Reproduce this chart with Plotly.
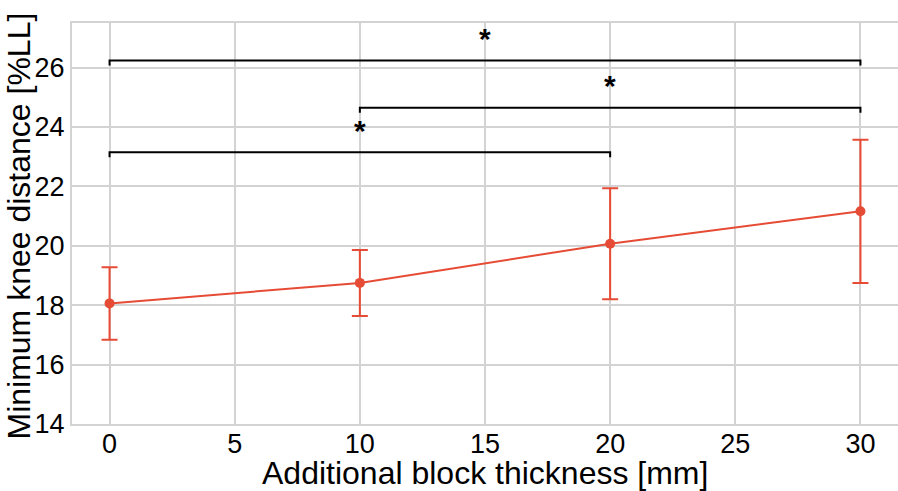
import plotly.graph_objects as go

thickness = [0, 10, 20, 30]
knee_mean = [18.06, 18.75, 20.07, 21.16]
knee_err = [1.22, 1.11, 1.87, 2.41]

# significance brackets: (x_start, x_end, y_level, label)
bracket_x0 = [0, 10, 0]
bracket_x1 = [30, 30, 20]
bracket_y = [26.24, 24.65, 23.15]
bracket_label = ["*", "*", "*"]
tick_drop = 0.17

x_title = "Additional block thickness [mm]"
y_title = "Minimum knee distance [%LL]"

red = "#E64B35"
font = "Liberation Sans, Arial, sans-serif"

fig = go.Figure()
fig.add_trace(go.Scatter(
    x=thickness, y=knee_mean, mode="lines+markers",
    line=dict(color=red, width=2),
    marker=dict(color=red, size=10),
    error_y=dict(type="data", array=knee_err, color=red, thickness=2, width=8),
    showlegend=False,
))

for x0, x1, yb, lab in zip(bracket_x0, bracket_x1, bracket_y, bracket_label):
    fig.add_trace(go.Scatter(
        x=[x0, x0, x1, x1], y=[yb - tick_drop, yb, yb, yb - tick_drop],
        mode="lines", line=dict(color="black", width=2),
        showlegend=False, hoverinfo="skip",
    ))
    fig.add_annotation(
        x=(x0 + x1) / 2, y=yb, text="<b>" + lab + "</b>", showarrow=False,
        yanchor="middle", yshift=22, font=dict(size=30, color="black", family=font),
    )

fig.add_annotation(
    xref="paper", yref="paper", x=0.5, y=0, text=x_title, showarrow=False,
    xanchor="center", yanchor="middle", yshift=-49,
    font=dict(size=32, color="black", family=font),
)
fig.add_annotation(
    xref="paper", yref="paper", x=0, y=0.5, text=y_title, showarrow=False,
    textangle=-90, xanchor="center", yanchor="middle", xshift=-54, yshift=-3,
    font=dict(size=32, color="black", family=font),
)

fig.update_layout(
    width=898, height=491,
    margin=dict(l=72, r=0, t=23, b=67, autoexpand=False),
    plot_bgcolor="white", paper_bgcolor="white",
    font=dict(family=font, color="black"),
)
fig.update_xaxes(
    range=[-1.5, 31.5], tickvals=[0, 5, 10, 15, 20, 25, 30],
    showgrid=True, gridcolor="#D3D3D3", gridwidth=2,
    showline=True, linecolor="#D3D3D3", linewidth=2, mirror=True,
    zeroline=False, ticks="", tickfont=dict(size=27), automargin=False,
    ticklabelstandoff=-5,
)
fig.update_yaxes(
    range=[14, 27.5], tickvals=[14, 16, 18, 20, 22, 24, 26],
    showgrid=True, gridcolor="#D3D3D3", gridwidth=2,
    showline=True, linecolor="#D3D3D3", linewidth=2, mirror=True,
    zeroline=False, ticks="", tickfont=dict(size=27), automargin=False,
)

fig.write_html(
    "out.html",
    config={"displayModeBar": False},
    post_script="document.body.style.margin='0';document.body.style.overflow='hidden';",
)
